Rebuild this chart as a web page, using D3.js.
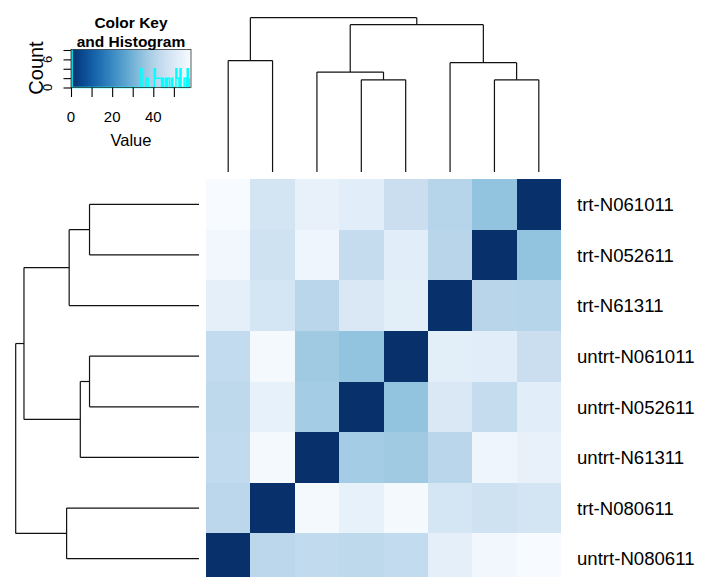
<!DOCTYPE html>
<html>
<head>
<meta charset="utf-8">
<script src="https://cdn.jsdelivr.net/npm/d3@7"></script>
<style>
  body { margin: 0; background: #fff; }
  svg { display: block; font-family: "Liberation Sans", Arial, Helvetica, sans-serif; }
</style>
</head>
<body>
<div id="chart"></div>
<script>
// samples, top to bottom
const rowLabels = ["trt-N061011", "trt-N052611", "trt-N61311", "untrt-N061011",
                   "untrt-N052611", "untrt-N61311", "trt-N080611", "untrt-N080611"];
// columns, left to right
const colLabels = ["untrt-N080611", "trt-N080611", "untrt-N61311", "untrt-N052611",
                   "untrt-N061011", "trt-N61311", "trt-N052611", "trt-N061011"];

// distance matrix, one array per row (columns in colLabels order)
const values = [
  [57.6, 47.1, 53.3, 51.1, 44.8, 40.6, 34.4, 0],
  [55.8, 46.2, 55.0, 43.6, 51.3, 40.8, 0, 34.4],
  [52.3, 47.5, 41.2, 49.2, 51.6, 0, 40.8, 40.6],
  [43.2, 56.6, 36.5, 34.4, 0, 51.6, 51.3, 44.8],
  [42.2, 53.1, 37.3, 0, 34.4, 49.2, 43.6, 51.1],
  [42.8, 56.8, 0, 37.3, 36.5, 41.2, 55.0, 53.3],
  [41.6, 0, 56.8, 53.1, 56.6, 47.5, 46.2, 47.1],
  [0, 41.6, 42.8, 42.2, 43.2, 52.3, 55.8, 57.6]
];

// hclust style merges: negative = leaf (1-based in rowLabels), positive = earlier merge
const merges = [
  [-1, -2, 34.4],
  [-4, -5, 34.4],
  [-6, 2, 37.3],
  [1, -3, 40.8],
  [-7, -8, 41.6],
  [4, 3, 55.0],
  [6, 5, 57.6]
];

const keyTicks = [0, 10, 20, 30, 40, 50];
const keyTickLabels = ["0", "", "20", "", "40", ""];
const countTicks = [0, 2, 4, 6, 8];
const countTickLabels = ["0", "", "", "6", ""];

const width = 701, height = 577;

const svg = d3.select("#chart").append("svg")
  .attr("width", width)
  .attr("height", height);

const maxVal = d3.max(values.flat());
const color = d3.scaleSequential(t => d3.interpolateBlues(1 - t)).domain([0, maxVal]);

const x = d3.scaleBand().domain(colLabels).range([206, 561]);
const y = d3.scaleBand().domain(rowLabels).range([179, 584]);

// heatmap cells
const cells = [];
values.forEach((row, i) => row.forEach((v, j) => cells.push({ r: rowLabels[i], c: colLabels[j], v: v })));

svg.append("g")
  .selectAll("rect")
  .data(cells)
  .join("rect")
  .attr("x", d => x(d.c))
  .attr("y", d => y(d.r))
  .attr("width", x.bandwidth())
  .attr("height", y.bandwidth())
  .attr("fill", d => color(d.v))
  .attr("shape-rendering", "crispEdges");

// row labels
svg.append("g")
  .selectAll("text")
  .data(rowLabels)
  .join("text")
  .attr("x", 577)
  .attr("y", d => y(d) + y.bandwidth() / 2)
  .attr("dy", "0.36em")
  .attr("font-size", 18.6)
  .attr("fill", "#000")
  .text(d => d);

// dendrograms
function buildTree() {
  const nodes = [];
  merges.forEach(([a, b, h]) => {
    const kid = k => k < 0 ? { name: rowLabels[-k - 1], height: 0 } : nodes[k - 1];
    nodes.push({ height: h, children: [kid(a), kid(b)] });
  });
  return nodes[nodes.length - 1];
}
const tree = buildTree();

function position(node, scale) {
  if (!node.children) return scale(node.name) + scale.bandwidth() / 2;
  return d3.mean(node.children, c => position(c, scale));
}

const internal = d3.hierarchy(tree).descendants().filter(d => d.children).map(d => d.data);

// column dendrogram (top)
const hTop = d3.scaleLinear().domain([0, tree.height]).range([172, 17.7]);
const topG = svg.append("g").attr("stroke", "#111").attr("stroke-width", 1.2).attr("fill", "none");
internal.forEach(n => {
  const ny = hTop(n.height);
  const xs = n.children.map(c => position(c, x));
  topG.append("line").attr("x1", xs[0]).attr("x2", xs[1]).attr("y1", ny).attr("y2", ny);
  n.children.forEach((c, k) => {
    topG.append("line").attr("x1", xs[k]).attr("x2", xs[k]).attr("y1", ny).attr("y2", hTop(c.height));
  });
});

// row dendrogram (left)
const hLeft = d3.scaleLinear().domain([0, tree.height]).range([199, 15.7]);
const leftG = svg.append("g").attr("stroke", "#111").attr("stroke-width", 1.2).attr("fill", "none");
internal.forEach(n => {
  const nx = hLeft(n.height);
  const ys = n.children.map(c => position(c, y));
  leftG.append("line").attr("x1", nx).attr("x2", nx).attr("y1", ys[0]).attr("y2", ys[1]);
  n.children.forEach((c, k) => {
    leftG.append("line").attr("x1", nx).attr("x2", hLeft(c.height)).attr("y1", ys[k]).attr("y2", ys[k]);
  });
});

// color key with histogram
const keyX = d3.scaleLinear().domain([0, maxVal]).range([71, 189.5]);
const keyTop = 49.5, keyBottom = 87.5, keyLeft = 71, keyRight = 191;

const grad = svg.append("defs").append("linearGradient")
  .attr("id", "keygrad")
  .attr("x1", "0%").attr("x2", "100%");
grad.selectAll("stop")
  .data(d3.range(0, 1.001, 0.05))
  .join("stop")
  .attr("offset", d => (d * 100) + "%")
  .attr("stop-color", d => color(d * maxVal));

svg.append("rect")
  .attr("x", keyLeft).attr("y", keyTop)
  .attr("width", keyRight - keyLeft).attr("height", keyBottom - keyTop)
  .attr("fill", "url(#keygrad)");

const bins = d3.bin()
  .domain([0, maxVal])
  .thresholds(d3.range(0.5, maxVal, 0.5))(values.flat());
const countY = d3.scaleLinear()
  .domain([0, d3.max(bins, b => b.length)])
  .range([keyBottom, keyTop + 0.5]);

const steps = bins.map(b => [b.x0, b.length]);
steps.push([bins[bins.length - 1].x1, bins[bins.length - 1].length]);

svg.append("path")
  .datum(steps)
  .attr("fill", "none")
  .attr("stroke", "#00FFFF")
  .attr("stroke-width", 1.5)
  .attr("d", d3.line().x(d => keyX(d[0])).y(d => countY(d[1])).curve(d3.curveStepAfter));

svg.append("rect")
  .attr("x", keyLeft).attr("y", keyTop)
  .attr("width", keyRight - keyLeft).attr("height", keyBottom - keyTop)
  .attr("fill", "none")
  .attr("stroke", "#333")
  .attr("stroke-width", 0.8);

const xAxis = svg.append("g")
  .attr("transform", "translate(0," + keyBottom + ")")
  .call(d3.axisBottom(keyX).tickValues(keyTicks).tickSize(9.5).tickFormat(""));
xAxis.select(".domain").remove();
xAxis.selectAll("line").attr("stroke", "#000").attr("stroke-width", 1.1);

svg.append("g")
  .attr("class", "key-labels")
  .selectAll("text")
  .data(keyTicks.filter((d, i) => keyTickLabels[i] !== ""))
  .join("text")
  .attr("x", d => keyX(d))
  .attr("y", 121.5)
  .attr("text-anchor", "middle")
  .attr("font-size", 15)
  .attr("fill", "#000")
  .text(d => keyTickLabels[keyTicks.indexOf(d)]);

const yAxis = svg.append("g")
  .attr("transform", "translate(" + keyLeft + ",0)")
  .call(d3.axisLeft(countY).tickValues(countTicks).tickSize(7.5).tickFormat(""));
yAxis.select(".domain").remove();
yAxis.selectAll("line").attr("stroke", "#000").attr("stroke-width", 1.1);

svg.append("g")
  .selectAll("text")
  .data(countTicks.filter((d, i) => countTickLabels[i] !== ""))
  .join("text")
  .attr("transform", d => "translate(52," + countY(d) + ") rotate(-90)")
  .attr("text-anchor", "middle")
  .attr("font-size", 13)
  .attr("fill", "#000")
  .text(d => countTickLabels[countTicks.indexOf(d)]);

svg.append("text")
  .attr("transform", "translate(43,68) rotate(-90)")
  .attr("text-anchor", "middle")
  .attr("font-size", 20)
  .text("Count");

svg.append("text")
  .attr("x", 131).attr("y", 146)
  .attr("text-anchor", "middle")
  .attr("font-size", 16.5)
  .text("Value");

const title = svg.append("text")
  .attr("text-anchor", "middle")
  .attr("font-size", 15.5)
  .attr("font-weight", "bold");
title.append("tspan").attr("x", 131).attr("y", 28).text("Color Key");
title.append("tspan").attr("x", 131).attr("y", 46.7).text("and Histogram");
</script>
</body>
</html>
